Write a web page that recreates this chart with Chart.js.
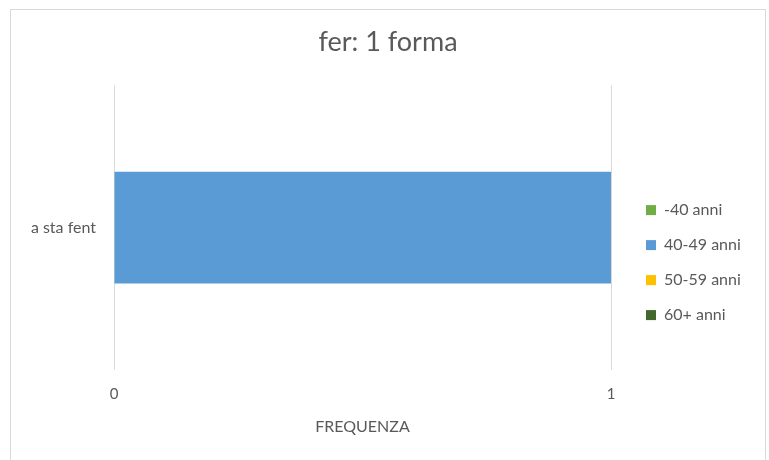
<!DOCTYPE html>
<html>
<head>
<meta charset="utf-8">
<script src="https://cdn.jsdelivr.net/npm/chart.js@4.4.1/dist/chart.umd.min.js"></script>
<style>
  html, body { margin: 0; padding: 0; background: #ffffff; overflow: hidden; }
  #frame {
    position: absolute; left: 10px; top: 9px;
    width: 754px; height: 460px;
    border: 1px solid #d9d9d9;
  }
  #chart { display: block; }
</style>
</head>
<body>
<div id="frame"><canvas id="chart" width="754" height="450"></canvas></div>
<script>
// chart data
const categories = ['a sta fent'];
const seriesNames = ['-40 anni', '40-49 anni', '50-59 anni', '60+ anni'];
const seriesColors = ['#70ad47', '#5b9bd5', '#ffc000', '#43682b'];
const under40 = [0];
const from40to49 = [1];
const from50to59 = [0];
const over60 = [0];
const xTicks = [0, 1];

const seriesValues = [under40, from40to49, from50to59, over60];
const textColor = '#595959';
const fontName = 'Lato, "Open Sans", sans-serif';

// keep the legend column at a fixed width, like the original
const legendWidthPlugin = {
  id: 'legendWidth',
  beforeLayout(chart) {
    const legend = chart.legend;
    if (legend && !legend._fixedWidth) {
      const fit = legend.fit;
      legend.fit = function() {
        fit.call(this);
        this.width = 138;
      };
      legend._fixedWidth = true;
    }
  }
};

const ctx = document.getElementById('chart').getContext('2d');
new Chart(ctx, {
  type: 'bar',
  data: {
    labels: categories,
    datasets: seriesNames.map((name, i) => ({
      label: name,
      data: seriesValues[i],
      backgroundColor: seriesColors[i],
      borderColor: seriesColors[i],
      borderWidth: 0,
      barPercentage: 0.393,
      categoryPercentage: 1
    }))
  },
  options: {
    indexAxis: 'y',
    responsive: false,
    animation: false,
    layout: { padding: 0 },
    plugins: {
      title: {
        display: true,
        text: 'fer: 1 forma',
        color: textColor,
        font: { family: fontName, size: 27, weight: 'normal' },
        padding: { top: 16, bottom: 7 }
      },
      legend: {
        position: 'right',
        // empty legend title only pushes the items down
        title: { display: true, text: ' ', font: { size: 11 }, padding: 21 },
        labels: {
          color: textColor,
          font: { family: fontName, size: 16 },
          boxWidth: 10,
          boxHeight: 10,
          padding: 19
        }
      },
      tooltip: { enabled: false }
    },
    scales: {
      x: {
        type: 'linear',
        position: 'bottom',
        stacked: true,
        min: xTicks[0],
        max: xTicks[xTicks.length - 1],
        afterBuildTicks(s) { s.ticks = xTicks.map(v => ({ value: v })); },
        grid: { color: '#d9d9d9', drawTicks: false },
        border: { display: false },
        ticks: {
          color: textColor,
          font: { family: fontName, size: 15 },
          padding: 15
        },
        title: {
          display: true,
          text: 'FREQUENZA',
          color: textColor,
          font: { family: fontName, size: 16 },
          padding: { top: 4, bottom: 24 }
        },
        afterFit(s) { s.height = 90; }
      },
      x2: {
        type: 'linear',
        position: 'top',
        grid: { display: false },
        border: { display: false },
        ticks: { display: false },
        afterFit(s) { s.height = 20; }
      },
      y: {
        stacked: true,
        grid: { display: false, drawTicks: false },
        border: { display: false },
        ticks: {
          color: textColor,
          font: { family: fontName, size: 16 },
          padding: 18
        },
        afterFit(s) { s.width = 103; }
      },
      y2: {
        type: 'linear',
        position: 'right',
        grid: { display: false },
        border: { display: false },
        ticks: { display: false },
        afterFit(s) { s.width = 16; }
      }
    }
  },
  plugins: [legendWidthPlugin]
});
</script>
</body>
</html>
